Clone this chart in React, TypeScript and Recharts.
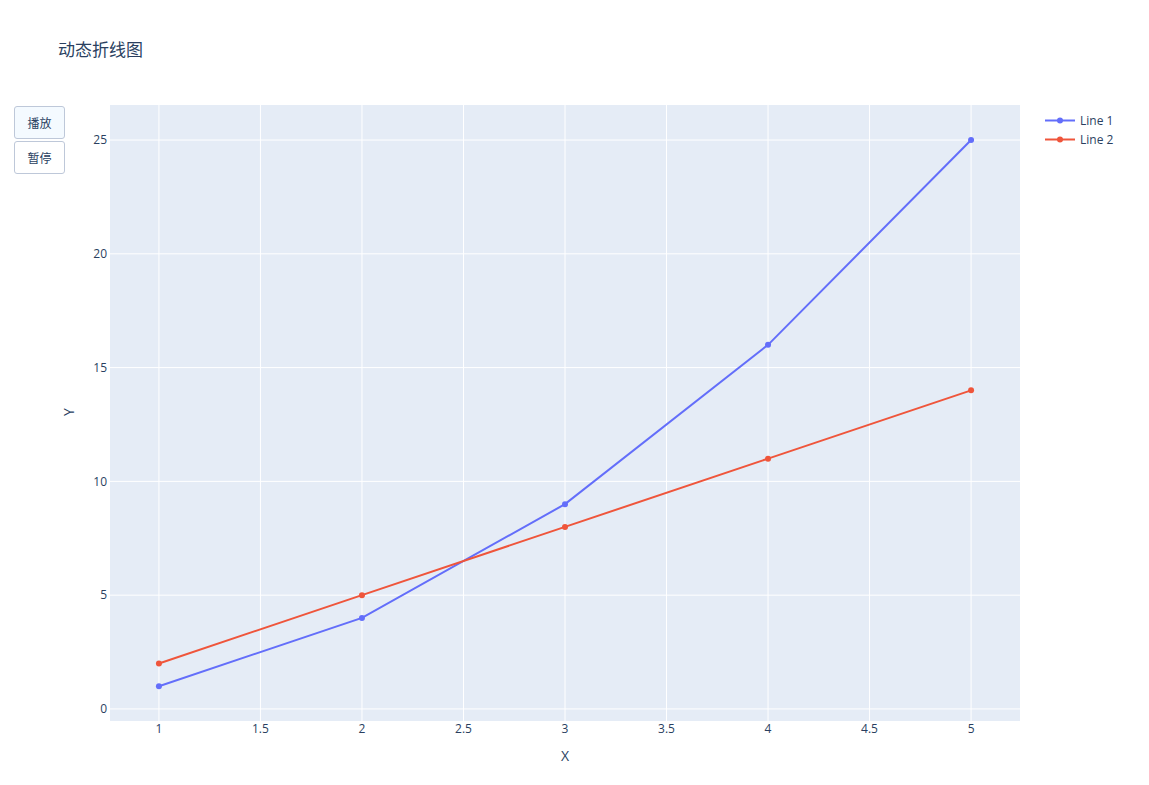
import React from "react";
import { LineChart, Line, XAxis, YAxis, CartesianGrid } from "recharts";

const xValues = [1, 2, 3, 4, 5];
const line1 = [1, 4, 9, 16, 25];
const line2 = [2, 5, 8, 11, 14];
const xTicks = [1, 1.5, 2, 2.5, 3, 3.5, 4, 4.5, 5];
const yTicks = [0, 5, 10, 15, 20, 25];

const data = xValues.map((x, i) => ({ x, line1: line1[i], line2: line2[i] }));

const FONT = '"Open Sans", "Noto Sans CJK SC", verdana, arial, sans-serif';
const TEXT = "#2a3f5f";

const legendItems = [
  { name: "Line 1", color: "#636efa" },
  { name: "Line 2", color: "#EF553B" },
];

function PlotLegend() {
  return (
    <div style={{ position: "absolute", left: 1040, top: 111, fontFamily: FONT, fontSize: 12, color: TEXT }}>
      {legendItems.map((it) => (
        <div key={it.name} style={{ display: "flex", alignItems: "center", height: 19 }}>
          <svg width={40} height={19}>
            <line x1={5} x2={35} y1={9.5} y2={9.5} stroke={it.color} strokeWidth={2} />
            <circle cx={20} cy={9.5} r={3} fill={it.color} />
          </svg>
          <span>{it.name}</span>
        </div>
      ))}
    </div>
  );
}

const btn: React.CSSProperties = {
  position: "absolute",
  left: 14,
  width: 51,
  height: 33,
  boxSizing: "border-box",
  border: "1px solid #BEC8D9",
  borderRadius: 3,
  fontFamily: FONT,
  fontSize: 12,
  color: TEXT,
  display: "flex",
  alignItems: "center",
  justifyContent: "center",
};

export default function App() {
  return (
    <div style={{ position: "absolute", left: 0, top: 0, width: 1149, height: 785, background: "#fff", fontFamily: FONT }}>
      <LineChart width={1149} height={785} data={data} margin={{ top: 105, right: 129, left: 50, bottom: 34 }}>
        <CartesianGrid fill="#E5ECF6" stroke="#ffffff" strokeWidth={1} horizontalValues={yTicks} verticalValues={xTicks} />
        <XAxis
          dataKey="x"
          type="number"
          domain={[0.759, 5.241]}
          ticks={xTicks}
          allowDataOverflow
          axisLine={false}
          tickLine={false}
          tickSize={0}
          tickMargin={3}
          height={30}
          tick={{ fill: TEXT, fontSize: 12, fontFamily: FONT }}
          label={{ value: "X", position: "bottom", offset: 0, fill: TEXT, fontSize: 14, fontFamily: FONT }}
        />
        <YAxis
          type="number"
          domain={[-0.53, 26.54]}
          ticks={yTicks}
          allowDataOverflow
          axisLine={false}
          tickLine={false}
          tickSize={0}
          tickMargin={3}
          width={60}
          tick={{ fill: TEXT, fontSize: 12, fontFamily: FONT }}
          label={{ value: "Y", angle: -90, position: "insideLeft", offset: 19, dy: 3, fill: TEXT, fontSize: 14, fontFamily: FONT }}
        />
        <Line dataKey="line1" name="Line 1" stroke="#636efa" strokeWidth={2} dot={{ r: 3, fill: "#636efa", stroke: "#636efa", strokeWidth: 0 }} isAnimationActive={false} />
        <Line dataKey="line2" name="Line 2" stroke="#EF553B" strokeWidth={2} dot={{ r: 3, fill: "#EF553B", stroke: "#EF553B", strokeWidth: 0 }} isAnimationActive={false} />
      </LineChart>
      <div style={{ position: "absolute", left: 58, top: 36, fontSize: 17, color: TEXT }}>动态折线图</div>
      <div style={{ ...btn, top: 106, background: "#F4FAFF" }}>播放</div>
      <div style={{ ...btn, top: 141, background: "#fff" }}>暂停</div>
      <PlotLegend />
    </div>
  );
}
